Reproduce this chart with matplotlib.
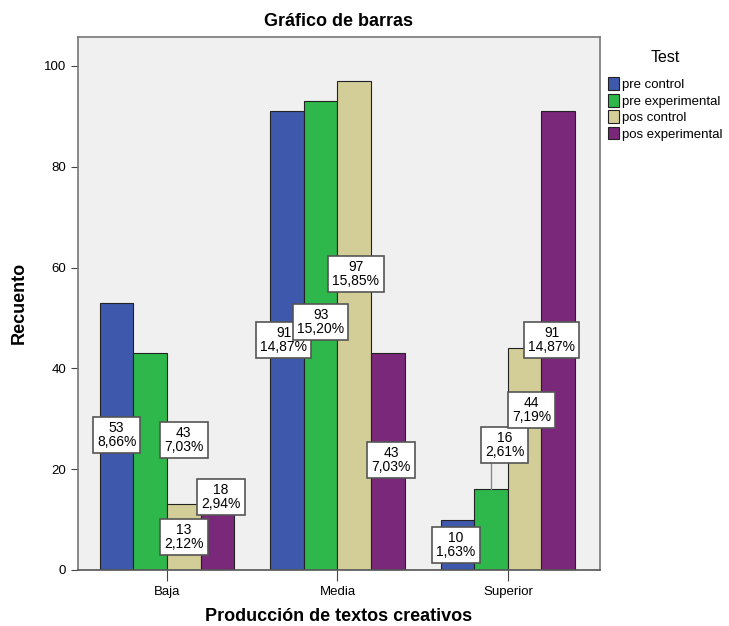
import matplotlib.pyplot as plt
import numpy as np

plt.rcParams['font.family'] = ['Liberation Sans', 'DejaVu Sans']

# data
categories = ['Baja', 'Media', 'Superior']
series = ['pre control', 'pre experimental', 'pos control', 'pos experimental']
counts = [
    [53, 91, 10],   # pre control
    [43, 93, 16],   # pre experimental
    [13, 97, 44],   # pos control
    [18, 43, 91],   # pos experimental
]
colors = ['#3E58AC', '#2EB84B', '#D3CE98', '#7A287A']

# label placement (y in data units, x shift in bar widths), moved where boxes would overlap
label_y = [
    [26.8, 45.6, 5.0],
    [25.8, 49.2, 24.8],
    [6.5, 58.7, 31.7],
    [14.5, 21.8, 45.6],
]
label_dx = [
    [0.0, -0.1, -0.05],
    [1.0, 0.0, 0.4],
    [0.0, 0.05, 0.2],
    [0.1, 0.1, -0.2],
]

total = sum(sum(row) for row in counts)

fig = plt.figure(figsize=(7.29, 6.26), dpi=100)
ax = fig.add_axes([0.107, 0.0895, 0.716, 0.852])
ax.set_facecolor('#F0F0F0')

x = np.arange(len(categories))
w = 0.197
for i, name in enumerate(series):
    pos = x + (i - 1.5) * w
    ax.bar(pos, counts[i], width=w, color=colors[i], edgecolor='#222222',
           linewidth=0.8, label=name, zorder=2)
    for j, v in enumerate(counts[i]):
        pct = f"{100 * v / total:.2f}".replace('.', ',')
        lx = pos[j] + label_dx[i][j] * w
        ly = label_y[i][j]
        if ly - 3 > v:
            ax.plot([pos[j], pos[j]], [v, ly - 3], color='#888888', lw=1, zorder=3)
        ax.text(lx, ly, f"{v}\n{pct}%", ha='center', va='center', fontsize=10,
                linespacing=1.0, zorder=4,
                bbox=dict(boxstyle='square,pad=0.3', fc='white', ec='#555555', lw=1.2))

ax.set_xlim(-0.522, 2.54)
ax.set_ylim(0, 105.8)
ax.set_yticks([0, 20, 40, 60, 80, 100])
ax.set_xticks(x)
ax.set_xticklabels(categories)
ax.tick_params(labelsize=9.5, length=5, color='#444444')
ax.tick_params(axis='x', length=8)
for s in ax.spines.values():
    s.set_color('#777777')
    s.set_linewidth(1.2)
ax.spines['bottom'].set_color('#555555')

ax.set_title('Gráfico de barras', fontsize=13, fontweight='bold', pad=8)
ax.set_ylabel('Recuento', fontsize=13, fontweight='bold', labelpad=12)
ax.set_xlabel('Producción de textos creativos', fontsize=13, fontweight='bold', labelpad=7)

leg = ax.legend(title='Test', loc='upper left', bbox_to_anchor=(1.005, 0.985),
                frameon=False, fontsize=9.5, title_fontsize=11.5,
                handlelength=0.85, handleheight=1.1, handletextpad=0.25,
                labelspacing=0.2, borderaxespad=0)
leg._legend_box.sep = 9

fig.savefig('out.png', dpi=100)
